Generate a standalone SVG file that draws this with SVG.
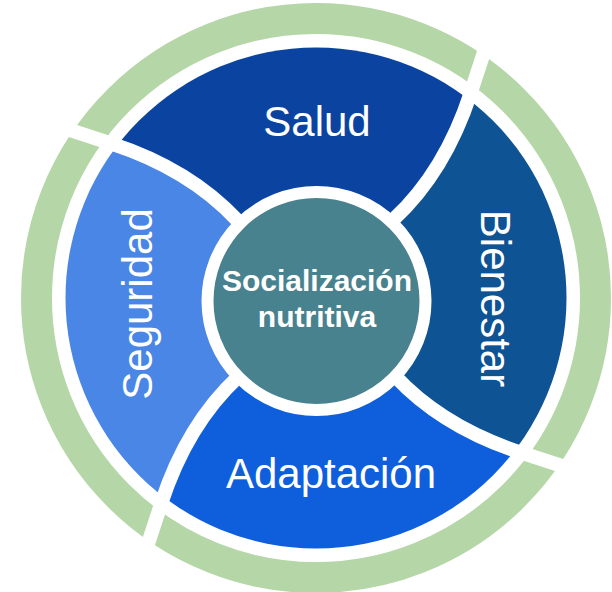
<svg xmlns="http://www.w3.org/2000/svg" xmlns:xlink="http://www.w3.org/1999/xlink" width="612" height="592" viewBox="0 0 612 592">
<style>
.lbl{font-family:"Liberation Sans",Arial,sans-serif;fill:#ffffff;font-size:42px;text-anchor:middle}
.ctr{font-family:"Liberation Sans",Arial,sans-serif;fill:#ffffff;font-size:30px;font-weight:bold;text-anchor:middle}
.sep{fill:none;stroke:#ffffff;stroke-width:14;stroke-linejoin:round}
</style>
<defs>
<clipPath id="disc"><circle cx="316" cy="298" r="250.5"/></clipPath>
<path id="seg" d="M316,298 L237,220 Q189.5,169 110.8,143.3 A257,257 0 0,1 470.7,92.8 Q445,171.5 394,219 Z"/>
<path id="cut" d="M388,224.4 L394,219 Q445,171.5 470.7,92.8 L484.7,50"/>
</defs>
<rect width="612" height="592" fill="#ffffff"/>
<g id="ring">
<circle cx="316" cy="298" r="279.5" fill="none" stroke="#B5D7A8" stroke-width="31"/>
</g>
<g id="salud">
<use xlink:href="#seg" href="#seg" fill="#0B44A0" clip-path="url(#disc)"/>
<text class="lbl" x="317" y="136">Salud</text>
</g>
<g id="bienestar">
<use xlink:href="#seg" href="#seg" transform="rotate(90 316 298)" fill="#0E5394" clip-path="url(#disc)"/>
<text class="lbl" transform="translate(481 298.5) rotate(90)">Bienestar</text>
</g>
<g id="adaptacion">
<use xlink:href="#seg" href="#seg" transform="rotate(180 316 298)" fill="#0F5EDB" clip-path="url(#disc)"/>
<text class="lbl" x="331" y="488">Adaptación</text>
</g>
<g id="seguridad">
<use xlink:href="#seg" href="#seg" transform="rotate(270 316 298)" fill="#4A86E5" clip-path="url(#disc)"/>
<text class="lbl" transform="translate(152 304) rotate(-90)">Seguridad</text>
</g>
<g id="separators">
<use xlink:href="#cut" href="#cut" class="sep"/>
<use xlink:href="#cut" href="#cut" class="sep" transform="rotate(90 316 298)"/>
<use xlink:href="#cut" href="#cut" class="sep" transform="rotate(180 316 298)"/>
<use xlink:href="#cut" href="#cut" class="sep" transform="rotate(270 316 298)"/>
</g>
<g id="connectors"/>
<g id="centro">
<circle cx="316.5" cy="301" r="109" fill="#48828E" stroke="#ffffff" stroke-width="12"/>
<text class="ctr" x="317" y="291">Socialización</text>
<text class="ctr" x="317" y="327">nutritiva</text>
</g>
</svg>
